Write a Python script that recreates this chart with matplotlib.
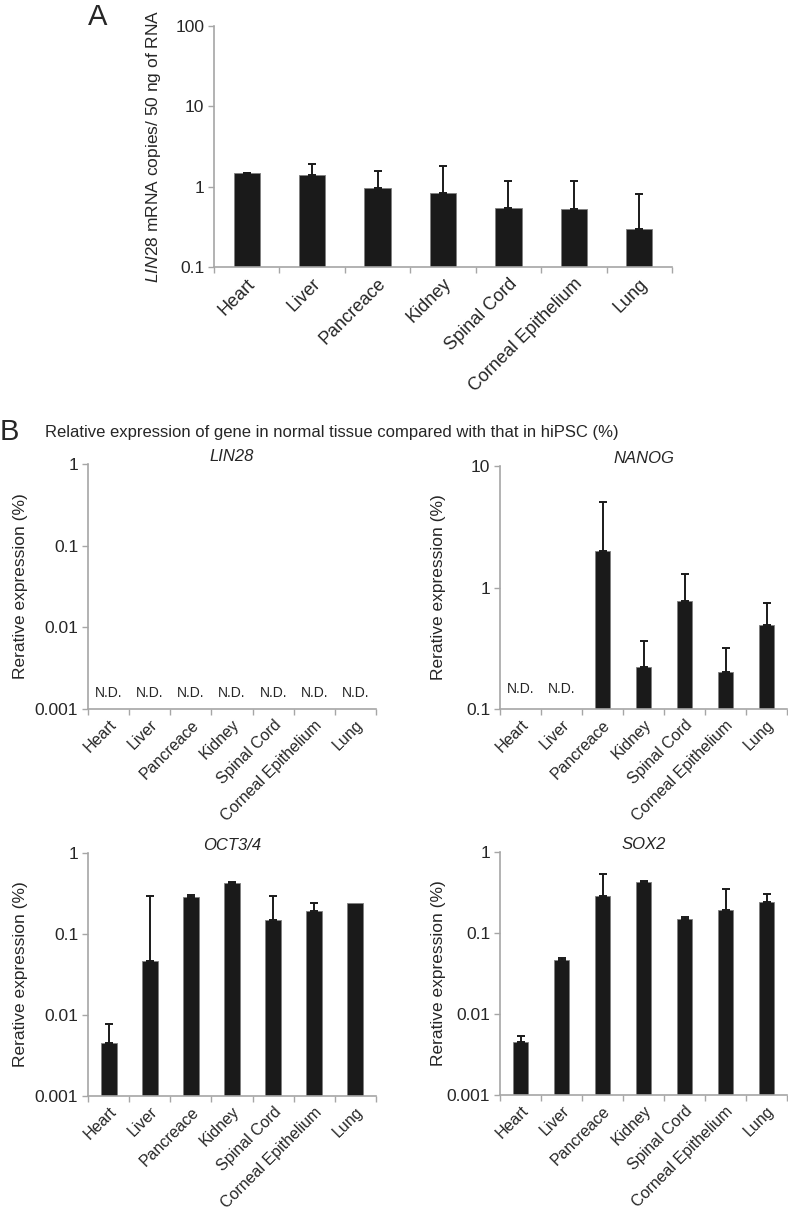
import numpy as np
import matplotlib
matplotlib.use('Agg')
import matplotlib.pyplot as plt
from matplotlib.ticker import FixedLocator, FuncFormatter

plt.rcParams['font.family'] = ['Liberation Sans', 'DejaVu Sans']
plt.rcParams['mathtext.fontset'] = 'custom'
plt.rcParams['mathtext.rm'] = 'Liberation Sans'
plt.rcParams['mathtext.it'] = 'Liberation Sans:italic'

# data
tissues = ['Heart', 'Liver', 'Pancreace', 'Kidney', 'Spinal Cord',
           'Corneal Epithelium', 'Lung']

lin28_copies = [1.46, 1.40, 0.95, 0.84, 0.55, 0.53, 0.30]
lin28_copies_err = [0.02, 0.50, 0.63, 0.97, 0.63, 0.65, 0.51]

lin28_rel = [np.nan] * 7          # N.D. everywhere
lin28_rel_err = [np.nan] * 7
nanog_rel = [np.nan, np.nan, 2.0, 0.22, 0.78, 0.20, 0.49]
nanog_rel_err = [np.nan, np.nan, 3.07, 0.145, 0.51, 0.12, 0.25]
oct34_rel = [0.0045, 0.047, 0.29, 0.43, 0.15, 0.19, 0.24]
oct34_rel_err = [0.0033, 0.247, 0.01, 0.005, 0.145, 0.054, 0.0]
sox2_rel = [0.0045, 0.046, 0.29, 0.43, 0.15, 0.19, 0.24]
sox2_rel_err = [0.0008, 0.003, 0.25, 0.005, 0.009, 0.157, 0.06]

BAR = '#1a1a1a'
AXC = '#a6a6a6'
TXT = '#262626'

W, H = 788, 1212
fig = plt.figure(figsize=(W / 100, H / 100), dpi=100)


def px(l, t, r, b):
    return [l / W, 1 - b / H, (r - l) / W, (b - t) / H]


def fmt_tick(v, pos):
    return ('%g' % v)


def bar_panel(ax, vals, errs, ylim, lab_size, tick_size, ylabel, ylab_size,
              nd_size=None, width=0.4):
    x = np.arange(len(tissues))
    vals = np.array(vals, dtype=float)
    errs = np.array(errs, dtype=float)
    ax.set_yscale('log')
    ax.set_ylim(*ylim)
    ax.set_xlim(-0.5, len(tissues) - 0.5)
    ok = ~np.isnan(vals)
    ax.bar(x[ok], vals[ok] - ylim[0], bottom=ylim[0], width=width,
           color=BAR, edgecolor='#7f7f7f', linewidth=0.6, zorder=2)
    eok = ok & (errs > 0)
    ax.errorbar(x[eok], vals[eok], yerr=[np.zeros(eok.sum()), errs[eok]],
                fmt='none', ecolor=BAR, elinewidth=1.4, capsize=3,
                capthick=1.4, zorder=3)
    if nd_size:
        for i in x[~ok]:
            ax.text(i, ylim[0] * 1.28, 'N.D.', ha='center', va='bottom',
                    fontsize=nd_size, color=TXT)
    for s in ['top', 'right']:
        ax.spines[s].set_visible(False)
    for s in ['left', 'bottom']:
        ax.spines[s].set_color(AXC)
        ax.spines[s].set_linewidth(1.2)
    decs = []
    v = ylim[0]
    while v <= ylim[1] * 1.001:
        decs.append(v)
        v *= 10
    ax.yaxis.set_major_locator(FixedLocator(decs))
    ax.yaxis.set_minor_locator(FixedLocator([]))
    ax.yaxis.set_major_formatter(FuncFormatter(fmt_tick))
    ax.tick_params(axis='y', length=4, color=AXC, width=1.0,
                   labelsize=tick_size, labelcolor=TXT, pad=3)
    ax.set_xticks(x)
    ax.set_xticklabels(tissues, rotation=45, ha='right',
                       rotation_mode='anchor')
    ax.set_xticks(np.arange(len(tissues) + 1) - 0.5, minor=True)
    ax.tick_params(axis='x', which='major', length=0, labelsize=lab_size,
                   labelcolor=TXT, pad=6)
    ax.tick_params(axis='x', which='minor', length=4, color=AXC, width=1.0)
    ax.set_ylabel(ylabel, fontsize=ylab_size, color=TXT)


# panel A
axA = fig.add_axes(px(214, 26, 672, 267))
bar_panel(axA, lin28_copies, lin28_copies_err, (0.1, 100), 13, 12.5,
          r'$\it{LIN28}$ mRNA copies/ 50 ng of RNA', 12.5)
axA.yaxis.set_label_coords(-0.112, 0.5)
fig.text(88 / W, 1 - 17 / H, 'A', fontsize=21, color=TXT, va='center')

# panel B
fig.text(0 / W, 1 - 432 / H, 'B', fontsize=21, color=TXT, va='center')
fig.text(45 / W, 1 - 432 / H,
         'Relative expression of gene in normal tissue compared with that in hiPSC (%)',
         fontsize=12, color=TXT, va='center')

ylab = 'Rerative expression (%)'
panels = [
    ('LIN28', lin28_rel, lin28_rel_err, (0.001, 1), (88, 464, 376, 709), -0.208),
    ('NANOG', nanog_rel, nanog_rel_err, (0.1, 10), (500, 466, 787, 709), -0.188),
    ('OCT3/4', oct34_rel, oct34_rel_err, (0.001, 1), (88, 853, 376, 1096), -0.208),
    ('SOX2', sox2_rel, sox2_rel_err, (0.001, 1), (500, 852, 787, 1095), -0.188),
]
for name, vals, errs, ylim, box, lx in panels:
    ax = fig.add_axes(px(*box))
    bar_panel(ax, vals, errs, ylim, 11.5, 12.5, ylab, 12.5, nd_size=10,
              width=0.39)
    ax.set_title(name, fontsize=12, style='italic', color=TXT, pad=2)
    ax.yaxis.set_label_coords(lx, 0.5)

fig.savefig('out.png', dpi=100)
